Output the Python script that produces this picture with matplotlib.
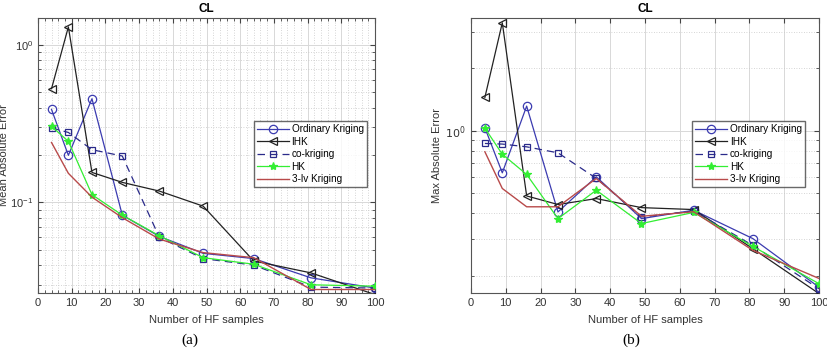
import matplotlib
matplotlib.use("Agg")
import matplotlib.pyplot as plt
from matplotlib.ticker import LogLocator, NullFormatter, MultipleLocator, FixedLocator

plt.rcParams['font.family'] = ['Liberation Sans', 'DejaVu Sans']

n_hf = [4, 9, 16, 25, 36, 49, 64, 81, 100]

# (a) Mean Absolute Error
mae_ok   = [0.389, 0.199, 0.455, 0.083, 0.0608, 0.0475, 0.044, 0.0332, 0.0286]
mae_ihk  = [0.527, 1.30, 0.155, 0.134, 0.118, 0.0947, 0.0425, 0.0357, 0.026]
mae_co   = [0.297, 0.278, 0.216, 0.197, 0.060, 0.044, 0.040, 0.029, 0.0286]
mae_hk   = [0.304, 0.244, 0.112, 0.083, 0.0614, 0.0446, 0.0405, 0.030, 0.0294]
mae_3lv  = [0.24, 0.153, 0.108, 0.080, 0.0585, 0.048, 0.0446, 0.028, 0.028]

# (b) Max Absolute Error
max_ok   = [1.034, 0.627, 1.316, 0.406, 0.600, 0.377, 0.414, 0.302, 0.176]
max_ihk  = [1.45, 3.32, 0.485, 0.441, 0.471, 0.426, 0.417, 0.27, 0.164]
max_co   = [0.869, 0.863, 0.837, 0.783, 0.59, 0.384, 0.41, 0.28, 0.173]
max_hk   = [1.03, 0.771, 0.616, 0.377, 0.517, 0.357, 0.404, 0.277, 0.183]
max_3lv  = [0.792, 0.527, 0.43, 0.43, 0.589, 0.387, 0.407, 0.265, 0.194]

labels = ["Ordinary Kriging", "IHK", "co-kriging", "HK", "3-lv Kriging"]
xticks = [0, 10, 20, 30, 40, 50, 60, 70, 80, 90, 100]

c_ok = '#3b3bb0'
c_ihk = '#222222'
c_co = '#2a2a8a'
c_hk = '#33ee33'
c_3lv = '#b84a4a'

fig = plt.figure(figsize=(8.27, 3.55), dpi=100)
axA = fig.add_axes([0.046, 0.1746, 0.4075, 0.7746])
axB = fig.add_axes([0.5695, 0.1746, 0.4208, 0.7746])


def draw(ax, ok, ihk, co, hk, lv):
    ax.plot(n_hf, ok, '-o', color=c_ok, lw=0.9, ms=6, mfc='none', mew=0.9, label=labels[0], zorder=3)
    ax.plot(n_hf, ihk, '-<', color=c_ihk, lw=0.9, ms=6, mfc='none', mew=0.9, label=labels[1], zorder=3)
    ax.plot(n_hf, co, '--s', color=c_co, lw=0.9, ms=4.5, mfc='none', mew=0.9, label=labels[2], zorder=3,
            dashes=(6, 4))
    ax.plot(n_hf, hk, '-*', color=c_hk, lw=0.9, ms=6, mew=0.9, label=labels[3], zorder=3)
    ax.plot(n_hf, lv, '-', color=c_3lv, lw=1.0, label=labels[4], zorder=3)
    ax.set_yscale('log')
    ax.set_xlim(0, 100)
    ax.set_xticks(xticks)
    ax.set_title('CL', fontsize=8.5, fontweight='bold', pad=4)
    ax.set_xlabel('Number of HF samples', fontsize=8, color='#333333', labelpad=5)
    ax.tick_params(which='both', direction='in', top=True, right=True, labelsize=8,
                   colors='#444444', labelcolor='#333333')
    ax.tick_params(which='major', length=3.5)
    ax.tick_params(which='minor', length=2)
    for s in ax.spines.values():
        s.set_color('#555555')
        s.set_linewidth(0.8)


draw(axA, mae_ok, mae_ihk, mae_co, mae_hk, mae_3lv)
axA.set_ylim(0.0266, 1.48)
axA.set_ylabel('Mean Absolute Error', fontsize=8, color='#333333')
axA.yaxis.set_label_coords(-0.085, 0.5)
axA.xaxis.set_minor_locator(MultipleLocator(2))
axA.yaxis.set_minor_locator(LogLocator(base=10, subs=[i / 10 for i in range(1, 10)], numticks=20))
axA.yaxis.set_minor_formatter(NullFormatter())
axA.grid(which='major', color='#d8d8d8', lw=0.7, ls='-')
axA.grid(which='minor', color='#c8c8c8', lw=0.6, ls=(0, (1, 2)))
axA.set_axisbelow(True)
axA.legend(loc='upper right', bbox_to_anchor=(0.975, 0.625), fontsize=7.2, handlelength=3.2,
           frameon=True, fancybox=False, edgecolor='#444444', borderpad=0.3, labelspacing=0.25,
           handletextpad=0.3, borderaxespad=0)

draw(axB, max_ok, max_ihk, max_co, max_hk, max_3lv)
axB.set_ylim(0.165, 3.5)
axB.set_ylabel('Max Absolute Error', fontsize=8, color='#333333')
axB.yaxis.set_label_coords(-0.083, 0.5)
axB.yaxis.set_major_locator(FixedLocator([1.0]))
axB.yaxis.set_minor_locator(FixedLocator([0.2, 0.3, 0.4, 0.5, 0.6, 0.7, 0.8, 0.9, 2, 3]))
axB.yaxis.set_minor_formatter(NullFormatter())
axB.set_yticklabels([r'$10^0$'])
axB.grid(which='major', axis='both', color='#d8d8d8', lw=0.7, ls='-')
axB.grid(which='minor', axis='y', color='#c8c8c8', lw=0.6, ls=(0, (1, 2)))
axB.set_axisbelow(True)
axB.legend(loc='upper right', bbox_to_anchor=(0.96, 0.625), fontsize=7.2, handlelength=3.2,
           frameon=True, fancybox=False, edgecolor='#444444', borderpad=0.3, labelspacing=0.25,
           handletextpad=0.3, borderaxespad=0)

fig.text(190 / 827, 1 - 340 / 355, '(a)', fontsize=11, family=['Liberation Serif', 'DejaVu Serif'],
         ha='center', va='center')
fig.text(631 / 827, 1 - 340 / 355, '(b)', fontsize=11, family=['Liberation Serif', 'DejaVu Serif'],
         ha='center', va='center')

fig.savefig('out.png', dpi=100)
